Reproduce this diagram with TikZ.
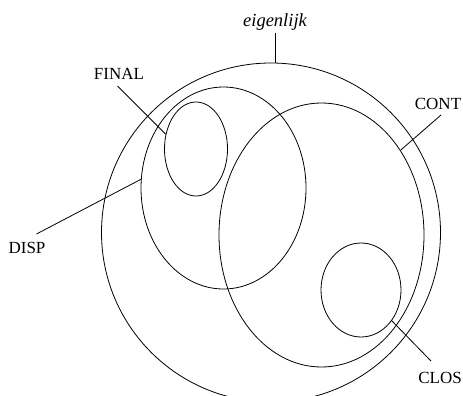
\documentclass[tikz,border=0pt]{standalone}
\usepackage{fontspec}
\setmainfont{Liberation Serif}
\usetikzlibrary{shapes.geometric,calc}
\begin{document}
\begin{tikzpicture}[x=1pt,y=-1pt,
  setell/.style={draw,ellipse,inner sep=0pt,line width=0.8pt},
  setcirc/.style={draw,circle,inner sep=0pt,line width=0.8pt},
  lbl/.style={inner sep=0pt,anchor=base,font=\fontsize{17}{20}\selectfont},
  conn/.style={line width=0.8pt}]
\useasboundingbox (0,0) rectangle (463,396);
\node[setcirc,minimum size=339pt] (big) at (271,232.5) {};
\node[setell,minimum width=165pt,minimum height=202pt] (disp) at (223.5,188) {};
\node[setell,minimum width=205pt,minimum height=264pt] (cont) at (321.5,235) {};
\node[setell,minimum width=63pt,minimum height=94pt] (final) at (196,149) {};
\node[setell,minimum width=80pt,minimum height=94pt] (clos) at (361,290) {};
\node[lbl,font=\fontsize{18.5}{22}\selectfont\itshape] (eigl) at (275,27) {eigenlijk};
\node[lbl] (finl) at (119,79) {FINAL};
\node[lbl] (contl) at (438,109) {CONT};
\node[lbl] (displ) at (27,253) {DISP};
\node[lbl] (closl) at (440,383) {CLOS};
\draw[conn] ($(eigl.base)+(0,6)$) -- (eigl.base |- big.north);
\draw[conn] ($(finl.base)+(-1.5,7)$) -- (final.154);
\draw[conn] ($(contl.base)+(3,6)$) -- (cont.47);
\draw[conn] ($(displ.base)+(9.5,-19)$) -- (disp.174);
\draw[conn] ($(closl.base)+(-9,-22)$) -- (clos.-45);
\end{tikzpicture}
\end{document}
